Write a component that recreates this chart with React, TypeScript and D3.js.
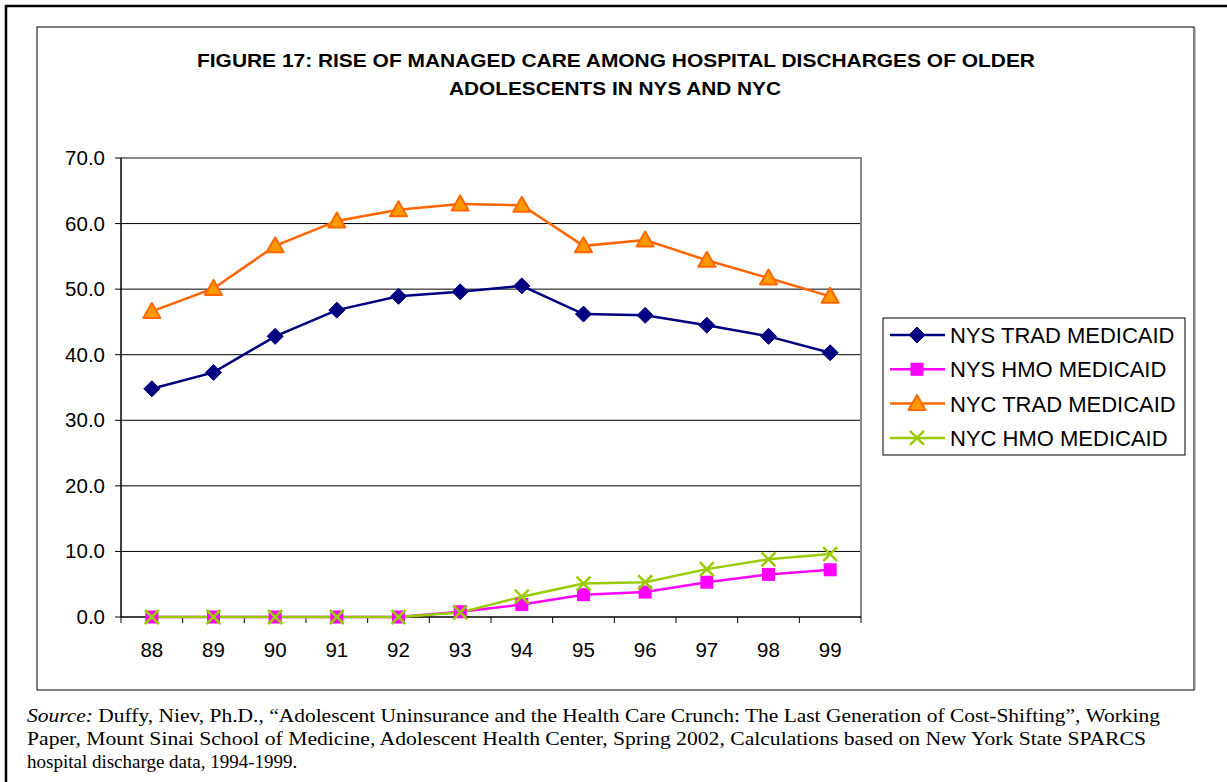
import React from "react";
import * as d3 from "d3";

const years = ["88", "89", "90", "91", "92", "93", "94", "95", "96", "97", "98", "99"];
const nysTrad = [34.8, 37.3, 42.8, 46.8, 48.9, 49.6, 50.5, 46.2, 46.0, 44.5, 42.8, 40.3];
const nysHmo = [0, 0, 0, 0, 0, 0.8, 1.9, 3.4, 3.8, 5.3, 6.5, 7.2];
const nycTrad = [46.6, 50.1, 56.6, 60.4, 62.1, 63.0, 62.8, 56.6, 57.5, 54.4, 51.7, 48.9];
const nycHmo = [0, 0, 0, 0, 0, 0.7, 3.1, 5.1, 5.3, 7.3, 8.8, 9.6];
const yTicks = [0, 10, 20, 30, 40, 50, 60, 70];

const series = [
  { name: "NYS TRAD MEDICAID", values: nysTrad, color: "#000080", marker: "diamond" },
  { name: "NYS HMO MEDICAID", values: nysHmo, color: "#FF00FF", marker: "square" },
  { name: "NYC TRAD MEDICAID", values: nycTrad, color: "#FF6600", marker: "triangle" },
  { name: "NYC HMO MEDICAID", values: nycHmo, color: "#99CC00", marker: "x" },
];

function Marker({ type, x, y, color }: { type: string; x: number; y: number; color: string }) {
  if (type === "diamond") {
    const s = 8;
    return <path d={`M${x},${y - s}L${x + s},${y}L${x},${y + s}L${x - s},${y}Z`} fill={color} stroke={color} strokeWidth={1} />;
  }
  if (type === "square") {
    const s = 6.5;
    return <rect x={x - s} y={y - s} width={2 * s} height={2 * s} fill={color} />;
  }
  if (type === "triangle") {
    const s = 7.5;
    return <path d={`M${x},${y - s - 1}L${x + s + 1},${y + s - 1}L${x - s - 1},${y + s - 1}Z`} fill="#FF9900" stroke="#FF6600" strokeWidth={2} strokeLinejoin="round" />;
  }
  const s = 7;
  return (
    <path d={`M${x - s},${y - s}L${x + s},${y + s}M${x + s},${y - s}L${x - s},${y + s}`} stroke={color} strokeWidth={2.5} fill="none" />
  );
}

export default function App() {
  const left = 121, right = 861, top = 158, bottom = 617;
  const x = d3.scaleBand().domain(years).range([left, right]);
  const y = d3.scaleLinear().domain([0, 70]).range([bottom, top]);
  const cx = (yr: string) => (x(yr) as number) + x.bandwidth() / 2;
  const line = d3
    .line<number>()
    .x((_, i) => cx(years[i]))
    .y((v) => y(v));

  const legendX = 883, legendY = 318, legendW = 302, legendH = 137;
  const legendRows = series.map((_, i) => legendY + 17 + i * 34.3);

  return (
    <svg
      width={1227}
      height={782}
      style={{ position: "absolute", left: 0, top: 0, background: "#fff" }}
      fontFamily="Liberation Sans, Arial, sans-serif"
    >
      {/* outer page frame */}
      <path d="M6,782V6H1227" fill="none" stroke="#000" strokeWidth={2.5} />
      {/* chart box */}
      <rect x={37} y={27} width={1157} height={663} fill="#fff" stroke="#000" strokeWidth={1} />
      <line x1={1195} y1={28} x2={1195} y2={690} stroke="#888" strokeWidth={1} />

      {/* title */}
      <text x={197} y={67} fontWeight="bold" fontSize={19} textLength={838} lengthAdjust="spacingAndGlyphs">
        FIGURE 17: RISE OF MANAGED CARE AMONG HOSPITAL DISCHARGES OF OLDER
      </text>
      <text x={449} y={95} fontWeight="bold" fontSize={19} textLength={332} lengthAdjust="spacingAndGlyphs">
        ADOLESCENTS IN NYS AND NYC
      </text>

      {/* gridlines */}
      {yTicks.filter((t) => t > 0 && t < 70).map((t) => (
        <line key={t} x1={left} x2={right} y1={y(t)} y2={y(t)} stroke="#000" strokeWidth={1} />
      ))}
      {/* plot area border (grey) */}
      <path d={`M${left},${top}H${right}V${bottom}`} fill="none" stroke="#888" strokeWidth={2} />

      {/* axes */}
      <line x1={left} x2={left} y1={top} y2={bottom} stroke="#000" strokeWidth={1.5} />
      <line x1={left} x2={right} y1={bottom} y2={bottom} stroke="#000" strokeWidth={1.5} />
      {yTicks.map((t) => (
        <g key={t}>
          <line x1={left - 6} x2={left} y1={y(t)} y2={y(t)} stroke="#000" strokeWidth={1} />
          <text x={105} y={y(t) + 7} textAnchor="end" fontSize={20.5}>
            {t.toFixed(1)}
          </text>
        </g>
      ))}
      {[...years.map((yr) => x(yr) as number), right].map((v, i) => (
        <line key={i} x1={v} x2={v} y1={bottom} y2={bottom + 6} stroke="#000" strokeWidth={1} />
      ))}
      {years.map((yr) => (
        <text key={yr} x={cx(yr)} y={657} textAnchor="middle" fontSize={20.5}>
          {yr}
        </text>
      ))}

      {/* series lines */}
      {series.map((s) => (
        <path key={s.name} d={line(s.values) || ""} fill="none" stroke={s.color} strokeWidth={2.5} />
      ))}
      {series.map((s) =>
        s.values.map((v, i) => <Marker key={s.name + i} type={s.marker} x={cx(years[i])} y={y(v)} color={s.color} />)
      )}

      {/* legend */}
      <rect x={legendX} y={legendY} width={legendW} height={legendH} fill="#fff" stroke="#000" strokeWidth={1} />
      {series.map((s, i) => (
        <g key={s.name}>
          <line x1={890} x2={945} y1={legendRows[i]} y2={legendRows[i]} stroke={s.color} strokeWidth={2.5} />
          <Marker type={s.marker} x={917} y={legendRows[i]} color={s.color} />
          <text x={950} y={legendRows[i] + 8} fontSize={22}>
            {s.name}
          </text>
        </g>
      ))}

      {/* source */}
      <g fontFamily="Liberation Serif, Times New Roman, serif" fontSize={19}>
        <text x={27} y={722} textLength={1133} lengthAdjust="spacingAndGlyphs">
          <tspan fontStyle="italic">Source:</tspan> Duffy, Niev, Ph.D., “Adolescent Uninsurance and the Health Care Crunch: The Last Generation of Cost-Shifting”, Working
        </text>
        <text x={27} y={745} textLength={1119} lengthAdjust="spacingAndGlyphs">
          Paper, Mount Sinai School of Medicine, Adolescent Health Center, Spring 2002, Calculations based on New York State SPARCS
        </text>
        <text x={27} y={768}>
          hospital discharge data, 1994-1999.
        </text>
      </g>
    </svg>
  );
}
